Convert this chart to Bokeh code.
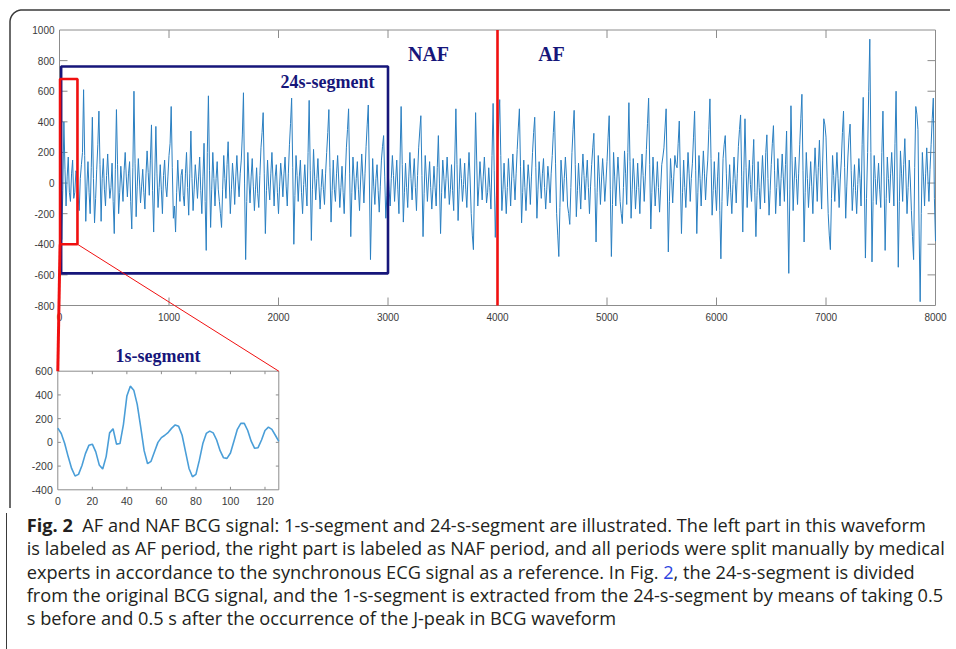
from bokeh.plotting import figure
from bokeh.models import Range1d, Div
from bokeh.layouts import column
from bokeh.embed import file_html
from bokeh.resources import INLINE
from bokeh.core.properties import value
import numpy as np

# ---------------- data ----------------
# main BCG signal: values at samples 0, 20, 40, ... 8000 (main_even)
# and at samples 10, 30, ... 7990 (main_mid)
main_step = 10
main_even = [
    110, -370, 400, -150, 170, -120, 150, -60, 60, -180, 120, 610, -250, 140, -200, 430, -260, 90, 470, -250, 160, -150, 190, -100, 130,
    -330, 480, -200, 110, -120, 200, -90, 140, -300, 600, -220, 160, -130, 90, -170, 210, -80, 380, -320, 370, -160, 120, -200, 150, -90,
    180, 500, -230, -320, 150, -120, 90, -150, 200, -210, 340, -180, 120, -100, 170, -200, 260, -440, 570, -290, 200, -150, 140, -120, -290,
    180, -100, 270, -200, 130, -140, 180, -90, 150, 590, -500, 200, -130, 160, -180, 100, -160, 230, 460, -330, 150, -110, 200, -150, 120,
    -200, 130, -90, 170, -150, 250, 555, -400, 180, -120, 150, -200, 120, -150, 540, -375, 220, -110, 160, -170, 90, -140, 200, 480, -255,
    150, -120, 180, -160, 110, -200, 230, 485, -350, 170, -110, 140, -180, 190, -130, 240, 510, -500, 160, -140, 120, -190, 150, 310, -230,
    100, -150, 180, -120, 150, -200, 500, -255, 130, -160, 200, -110, 160, -180, 230, 440, -350, 180, -120, 140, -170, 110, -150, 310, -330,
    150, -100, 170, -140, 120, -180, 485, -245, 160, -120, 130, -160, 200, -200, -435, 460, -150, 140, -110, 170, -130, 100, -170, 520, -355,
    200, 545, -180, 130, -200, 160, -150, 190, -110, 220, 485, -260, 150, -180, 120, -140, 200, 430, -230, 140, -100, 160, -170, 110, -130,
    180, 470, -200, -480, 150, -120, 170, -150, -270, 200, 475, -220, 130, -170, 190, -110, 150, -200, 120, 325, -385, 180, -140, 160, -120,
    140, 440, -480, 200, -150, 170, -120, -265, 210, -140, 525, -230, 160, -170, 130, -200, 190, -120, 220, 555, -300, 170, -150, 140, -190,
    120, 230, 485, -450, 160, -130, 180, 100, 405, -330, 150, -160, 200, -120, 130, 470, -330, 180, -150, 210, -110, 150, 550, -210, 140,
    -180, 200, -495, 160, 310, -150, 120, -200, 170, -130, 240, 445, -320, 420, -160, 150, -120, 285, -350, 140, -170, 180, -130, 315, -210,
    120, 375, -200, 160, -150, 190, -120, 340, -590, 505, -180, 170, -140, 250, 580, -385, 200, -160, 140, -200, 230, -120, 280, -170, 420,
    300, -200, -435, 180, -120, 200, -160, 150, 470, -230, 170, 385, -180, 120, -200, 160, -150, 560, -490, 200, 940, -515, 180, -140, 130,
    -160, 470, -440, 170, -130, 200, -150, 600, -550, 210, -120, 290, -200, 150, -180, -500, 500, 350, -775, 200, -150, 230, -120, 250, 555,
    -380,
]
main_mid = [
    180, -50, 90, 40, -60, 60, -100, 80, -90, 30, 200, 180, -20, -60, 100, 30, -100, 250, 120, 30, -40, 50, 20, -30, -120,
    90, 120, -60, 0, 80, 40, 60, -120, 100, 130, -20, 20, -20, -60, 60, 70, 150, -50, 40, 60, -30, -40, 50, -20, 40,
    260, 100, -150, -60, -20, 50, -80, 60, -30, 60, 30, -40, 20, 40, -50, 40, -120, 200, 80, -40, 30, 30, -40, -200, -40,
    30, 120, 20, -40, 20, 40, 20, 60, 320, 0, -120, 20, 40, -20, -40, -70, 50, 330, 60, -50, -20, 60, 20, 40, -60,
    -20, 40, 60, -20, 60, 390, 100, -80, 50, 40, -60, -10, -30, 200, 80, -40, 40, 30, -20, -30, -40, 60, 330, 100, -50,
    -40, 60, 20, -30, -60, 40, 350, 60, -60, 40, 30, -40, 20, 40, 60, 380, 20, -150, -20, 30, -50, -20, 240, 40, -80,
    -40, 30, 50, 20, -40, 150, 120, -60, -30, 40, 30, 40, -30, 50, 340, 50, -70, 40, 20, -30, -40, -30, 100, 0, -60,
    40, 30, 20, -40, -50, 150, 120, -40, 30, -10, -40, 40, 20, -340, 20, 150, -20, 20, 40, 20, -60, -30, 180, 80, -80,
    380, 180, -40, -40, -30, 20, 40, 30, 60, 360, 110, -60, -30, -20, 20, 40, 330, 100, -40, 20, 60, -30, -40, 20, 60,
    330, 130, -340, -160, 40, 30, 40, -200, -30, 350, 120, -50, -20, 40, 50, 30, -30, -20, 230, -30, -60, 40, 20, 40, 0,
    300, -40, -140, 40, 20, 40, -200, -30, 60, 200, 140, -40, 20, -40, -30, 20, 50, 40, 390, 120, -60, 20, -20, -30, -40,
    170, 360, 20, -120, 30, 40, 120, 260, 40, -60, -30, 20, 60, 30, 300, 80, -60, 30, 40, 60, 40, 350, 160, -50, -40,
    40, -180, -120, 250, 60, -40, -60, -10, 30, 60, 350, 40, 80, 100, 20, -10, 120, -60, -80, -30, 20, 20, 200, 30, -50,
    260, 80, -30, 20, 30, 40, 120, -150, -40, 150, 20, 30, 60, 420, 80, -60, 30, -20, -20, 40, 60, 100, 40, 150, 380,
    40, -340, -100, 50, 40, 30, 20, 330, 100, -20, 300, 80, -30, -50, -10, 30, 250, 20, -100, 600, 200, -120, 30, 0, -40,
    200, 40, -100, 30, 60, 40, 260, 40, -120, 60, 120, 40, -30, 20, -350, 100, 450, -300, -200, 40, 60, 40, 90, 420, -100,
]
main_values = [v for pair in zip(main_even[:-1], main_mid) for v in pair] + [main_even[-1]]
main_x = [i * main_step for i in range(len(main_values))]

# 1-s segment (inset), one value every 2 samples (0 .. 128)
inset_step = 2
inset_values = [
    120, 75, -10, -120, -220, -284, -270, -195, -95, -25, -15, -80, -190, -225, -120, 80, 115,
    -15, -10, 150, 390, 474, 440, 320, 130, -70, -180, -160, -80, 0, 40, 60, 85,
    120, 147, 135, 60, -80, -220, -290, -270, -150, -10, 75, 95, 80, 20, -70, -130,
    -135, -90, 10, 110, 160, 160, 100, 10, -50, -45, 20, 100, 128, 110, 60, 8,
]
inset_x = [i * inset_step for i in range(len(inset_values))]

main_xlim = (0, 8000)
main_ylim = (-800, 1000)
main_xticks = [0, 1000, 2000, 3000, 4000, 5000, 6000, 7000, 8000]
main_yticks = [-800, -600, -400, -200, 0, 200, 400, 600, 800, 1000]

inset_xlim = (0, 128)
inset_ylim = (-400, 600)
inset_xticks = [0, 20, 40, 60, 80, 100, 120]
inset_yticks = [-400, -200, 0, 200, 400, 600]

af_boundary = 4000
seg24 = dict(left=15, right=3000, bottom=-590, top=762)
seg1 = dict(left=5, right=164, bottom=-400, top=680)

labels_main = [("NAF", 3370, 846), ("AF", 4493, 846), ("24s-segment", 2447, 657)]
label_inset = ("1s-segment", 58, 732)

caption_bold = "Fig. 2"
caption_lines = [
    "AF and NAF BCG signal: 1-s-segment and 24-s-segment are illustrated. The left part in this waveform",
    "is labeled as AF period, the right part is labeled as NAF period, and all periods were split manually by medical",
    "experts in accordance to the synchronous ECG signal as a reference. In Fig. {link}, the 24-s-segment is divided",
    "from the original BCG signal, and the 1-s-segment is extracted from the 24-s-segment by means of taking 0.5",
    "s before and 0.5 s after the occurrence of the J-peak in BCG waveform",
]

# ---------------- layout (canvas pixels) ----------------
W, H = 950, 508
MAIN_PX = (59.0, 935.0)     # canvas x of main xlim
MAIN_PY = (305.0, 29.5)     # canvas y (from top) of main ylim
INSET_PX = (57.3, 278.3)
INSET_PY = (489.3, 370.7)
BORDER = 9.5

def d_at(p, lim, pix):
    return lim[0] + (p - pix[0]) * (lim[1] - lim[0]) / (pix[1] - pix[0])

def xr(lim, pix):
    return Range1d(start=d_at(0, lim, pix), end=d_at(W, lim, pix))

def yr(lim, pix):
    return Range1d(start=d_at(H, lim, pix), end=d_at(0, lim, pix))

def to_px(v, lim, pix):
    return pix[0] + (v - lim[0]) * (pix[1] - pix[0]) / (lim[1] - lim[0])

p = figure(width=W, height=H, x_range=Range1d(0, W), y_range=Range1d(H, 0),
           x_axis_type=None, y_axis_type=None, toolbar_location=None,
           output_backend="svg", min_border=0, outline_line_color=None,
           background_fill_color="white", border_fill_color="white")
p.title.visible = False
p.extra_x_ranges = {"mx": xr(main_xlim, MAIN_PX), "ix": xr(inset_xlim, INSET_PX)}
p.extra_y_ranges = {"my": yr(main_ylim, MAIN_PY), "iy": yr(inset_ylim, INSET_PY)}

AXIS_COLOR = "#8c8c8c"
TICK_TEXT = "#3a3a3a"
TICK_FONT = value("Liberation Sans")

def draw_axes(xlim, ylim, xticks, yticks, xn, yn, pix_x, pix_y, tick_px, fsize, lab_off):
    sx = (pix_x[1] - pix_x[0]) / (xlim[1] - xlim[0])
    sy = (pix_y[0] - pix_y[1]) / (ylim[1] - ylim[0])
    dx, dy = tick_px / sx, tick_px / sy
    kw = dict(x_range_name=xn, y_range_name=yn)
    p.quad(left=[xlim[0]], right=[xlim[1]], bottom=[ylim[0]], top=[ylim[1]],
           fill_color=None, line_color=AXIS_COLOR, line_width=1, **kw)
    inner_x = [t for t in xticks if xlim[0] < t < xlim[1]]
    inner_y = [t for t in yticks if ylim[0] < t < ylim[1]]
    n = len(inner_x)
    p.segment(x0=inner_x, y0=[ylim[0]] * n, x1=inner_x, y1=[ylim[0] + dy] * n,
              line_color=AXIS_COLOR, **kw)
    p.segment(x0=inner_x, y0=[ylim[1]] * n, x1=inner_x, y1=[ylim[1] - dy] * n,
              line_color=AXIS_COLOR, **kw)
    m = len(inner_y)
    p.segment(x0=[xlim[0]] * m, y0=inner_y, x1=[xlim[0] + dx] * m, y1=inner_y,
              line_color=AXIS_COLOR, **kw)
    p.segment(x0=[xlim[1]] * m, y0=inner_y, x1=[xlim[1] - dx] * m, y1=inner_y,
              line_color=AXIS_COLOR, **kw)
    p.text(x=xticks, y=[ylim[0]] * len(xticks), text=[str(t) for t in xticks],
           text_align="center", text_baseline="middle", y_offset=lab_off[1],
           text_font=TICK_FONT, text_font_size=f"{fsize}px", text_color=TICK_TEXT, **kw)
    p.text(x=[xlim[0]] * len(yticks), y=yticks, text=[str(t) for t in yticks],
           text_align="right", text_baseline="middle", x_offset=-lab_off[0],
           text_font=TICK_FONT, text_font_size=f"{fsize}px", text_color=TICK_TEXT, **kw)

# main plot
draw_axes(main_xlim, main_ylim, main_xticks, main_yticks, "mx", "my",
          MAIN_PX, MAIN_PY, 8, 10, (5, 11))
p.line(main_x, main_values, line_color="#2a7fc1", line_width=1,
       x_range_name="mx", y_range_name="my")

NAVY = "#16167a"
RED = "#f01010"
p.quad(left=[seg24["left"]], right=[seg24["right"]], bottom=[seg24["bottom"]], top=[seg24["top"]],
       fill_color=None, line_color=NAVY, line_width=2.6, x_range_name="mx", y_range_name="my")
p.quad(left=[seg1["left"]], right=[seg1["right"]], bottom=[seg1["bottom"]], top=[seg1["top"]],
       fill_color=None, line_color=RED, line_width=2.6, x_range_name="mx", y_range_name="my")
p.segment(x0=[af_boundary], y0=[main_ylim[0]], x1=[af_boundary], y1=[main_ylim[1]],
          line_color=RED, line_width=2.6, x_range_name="mx", y_range_name="my")

for txt, lx, ly in labels_main:
    size = "20px" if txt in ("NAF", "AF") else "18px"
    p.text(x=[lx], y=[ly], text=[txt], text_align="center", text_baseline="middle",
           text_font=value("Liberation Serif"), text_font_style="bold",
           text_font_size=size, text_color=NAVY, x_range_name="mx", y_range_name="my")

# inset
draw_axes(inset_xlim, inset_ylim, inset_xticks, inset_yticks, "ix", "iy",
          INSET_PX, INSET_PY, 3, 10.5, (5, 11.5))
p.line(inset_x, inset_values, line_color="#4a9ed8", line_width=1.6,
       x_range_name="ix", y_range_name="iy")
p.text(x=[label_inset[1]], y=[label_inset[2]], text=[label_inset[0]], text_align="center",
       text_baseline="middle", text_font=value("Liberation Serif"), text_font_style="bold",
       text_font_size="18px", text_color=NAVY, x_range_name="ix", y_range_name="iy")

# connectors from the 1-s box to the inset frame (canvas pixels)
c_x0 = [to_px(seg1["left"], main_xlim, MAIN_PX), to_px(seg1["right"], main_xlim, MAIN_PX)]
c_y0 = [to_px(seg1["bottom"], main_ylim, MAIN_PY)] * 2
c_x1 = [to_px(inset_xlim[0], inset_xlim, INSET_PX), to_px(inset_xlim[1], inset_xlim, INSET_PX)]
c_y1 = [to_px(inset_ylim[1], inset_ylim, INSET_PY)] * 2
p.segment(x0=c_x0[:1], y0=c_y0[:1], x1=c_x1[:1], y1=c_y1[:1], line_color=RED, line_width=3)
p.segment(x0=c_x0[1:], y0=c_y0[1:], x1=c_x1[1:], y1=c_y1[1:], line_color=RED, line_width=1)

# panel border (top + left, rounded corner)
r = 12.0
ang = np.linspace(np.pi, 1.5 * np.pi, 16)
bx = [BORDER] + list(BORDER + r + r * np.cos(ang)) + [W]
by = [H] + list(BORDER + r + r * np.sin(ang)) + [BORDER]
p.line(bx, by, line_color="#3a3a3a", line_width=1.5)

link = "<span style='color:#2d45e0'>2</span>"
lines_html = [f"<b>{caption_bold}</b>&nbsp; " + caption_lines[0]] + \
             [ln.replace("{link}", link) for ln in caption_lines[1:]]
CAP_H = 138
cap = Div(text=("<div style=\"margin-left:0.75px; border-left:1.5px solid #3a3a3a; "
                f"height:{CAP_H}px; box-sizing:border-box; "
                "font-family:'Open Sans'; font-size:18.2px; line-height:23.3px; "
                "color:#231f20; padding:1px 0 0 20px; white-space:nowrap;\">"
                + "<br>".join(lines_html) + "</div>"),
          width=W, height=CAP_H)

layout = column(p, cap, spacing=0)
open("out.html", "w").write(file_html(layout, INLINE))
